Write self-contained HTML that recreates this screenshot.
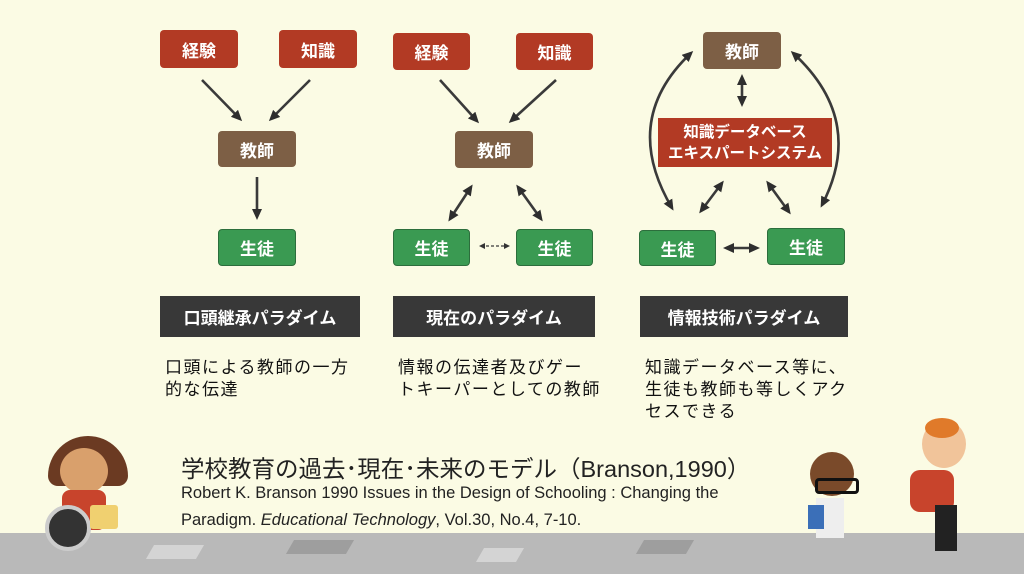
<!DOCTYPE html>
<html><head><meta charset="utf-8"><style>
body{margin:0;width:1024px;height:574px;overflow:hidden;background:#fbfbe4;position:relative;font-family:"Liberation Sans","Noto Sans CJK JP",sans-serif}
.b{position:absolute;color:#fff;font-weight:bold;font-size:17px;display:flex;align-items:center;justify-content:center;border-radius:4px;box-sizing:border-box}
.r{background:#b23a24}.br{background:#7d5f45}.g{background:#3a9a52;border:1px solid #2c6e3c}
.l{position:absolute;background:#383838;color:#fff;font-weight:bold;font-size:17px;display:flex;align-items:center;justify-content:center;height:41px;top:296px}
.d{position:absolute;font-size:17px;letter-spacing:1.5px;line-height:22px;color:#111;top:357px;white-space:nowrap}
</style></head><body>
<div style="position:absolute;left:0;top:533px;width:1024px;height:41px;background:#b9b9b9"></div>
<div style="position:absolute;left:150px;top:545px;width:50px;height:14px;background:#d4d4d4;transform:skewX(-30deg)"></div>
<div style="position:absolute;left:290px;top:540px;width:60px;height:14px;background:#9e9e9e;transform:skewX(-30deg)"></div>
<div style="position:absolute;left:480px;top:548px;width:40px;height:14px;background:#d4d4d4;transform:skewX(-30deg)"></div>
<div style="position:absolute;left:640px;top:540px;width:50px;height:14px;background:#9e9e9e;transform:skewX(-30deg)"></div>

<div class="b r" style="left:160px;top:30px;width:78px;height:38px">経験</div>
<div class="b r" style="left:279px;top:30px;width:78px;height:38px">知識</div>
<div class="b br" style="left:218px;top:131px;width:78px;height:36px">教師</div>
<div class="b g" style="left:218px;top:229px;width:78px;height:37px">生徒</div>

<div class="b r" style="left:393px;top:33px;width:77px;height:37px">経験</div>
<div class="b r" style="left:516px;top:33px;width:77px;height:37px">知識</div>
<div class="b br" style="left:455px;top:131px;width:78px;height:37px">教師</div>
<div class="b g" style="left:393px;top:229px;width:77px;height:37px">生徒</div>
<div class="b g" style="left:516px;top:229px;width:77px;height:37px">生徒</div>

<div class="b br" style="left:703px;top:32px;width:78px;height:37px">教師</div>
<div class="b r" style="left:658px;top:118px;width:174px;height:49px;border-radius:0;line-height:21px;text-align:center;font-size:15.5px">知識データベース<br>エキスパートシステム</div>
<div class="b g" style="left:639px;top:230px;width:77px;height:36px">生徒</div>
<div class="b g" style="left:767px;top:228px;width:78px;height:37px">生徒</div>

<svg style="position:absolute;left:0;top:0" width="1024" height="574">
<defs><marker id="a" markerWidth="11" markerHeight="10" refX="8" refY="5" orient="auto-start-reverse" markerUnits="userSpaceOnUse"><path d="M0,0 L11,5 L0,10 z" fill="#2e2e2e"/></marker></defs>
<g stroke="#3a3a3a" stroke-width="2.6" fill="none">
<line x1="202" y1="80" x2="240" y2="119" marker-end="url(#a)"/>
<line x1="310" y1="80" x2="271" y2="119" marker-end="url(#a)"/>
<line x1="257" y1="177" x2="257" y2="217" marker-end="url(#a)"/>
<line x1="440" y1="80" x2="477" y2="121" marker-end="url(#a)"/>
<line x1="556" y1="80" x2="511" y2="121" marker-end="url(#a)"/>
<line x1="471" y1="187" x2="450" y2="219" marker-start="url(#a)" marker-end="url(#a)"/>
<line x1="518" y1="187" x2="541" y2="219" marker-start="url(#a)" marker-end="url(#a)"/>
<line x1="481" y1="246" x2="508" y2="246" stroke-width="1.3" stroke-dasharray="3,2"/>
<path d="M479,246 l6,-3 v6z M510,246 l-6,-3 v6z" fill="#333" stroke="none"/>
<line x1="742" y1="77" x2="742" y2="104" marker-start="url(#a)" marker-end="url(#a)"/>
<line x1="722" y1="183" x2="701" y2="211" marker-start="url(#a)" marker-end="url(#a)"/>
<line x1="768" y1="183" x2="789" y2="212" marker-start="url(#a)" marker-end="url(#a)"/>
<line x1="726" y1="248" x2="757" y2="248" marker-start="url(#a)" marker-end="url(#a)"/>
<path d="M691,53 Q620,120 672,208" marker-start="url(#a)" marker-end="url(#a)"/>
<path d="M793,53 Q866,120 822,205" marker-start="url(#a)" marker-end="url(#a)"/>
</g></svg>

<div class="l" style="left:160px;width:200px">口頭継承パラダイム</div>
<div class="l" style="left:393px;width:202px">現在のパラダイム</div>
<div class="l" style="left:640px;width:208px">情報技術パラダイム</div>

<div class="d" style="left:165px">口頭による教師の一方<br>的な伝達</div>
<div class="d" style="left:398px">情報の伝達者及びゲー<br>トキーパーとしての教師</div>
<div class="d" style="left:645px">知識データベース等に、<br>生徒も教師も等しくアク<br>セスできる</div>

<div style="position:absolute;left:181px;top:450px;font-size:23.5px;color:#222;white-space:nowrap">学校教育の過去･現在･未来のモデル（Branson,1990）</div>
<div style="position:absolute;left:181px;top:480px;font-size:16.5px;line-height:27px;color:#222;white-space:nowrap">Robert K. Branson 1990 Issues in the Design of Schooling : Changing the<br>Paradigm. <i>Educational Technology</i>, Vol.30, No.4, 7-10.</div>

<div style="position:absolute;left:48px;top:436px;width:80px;height:50px;border-radius:40px 40px 10px 10px;background:#6b3a22"></div>
<div style="position:absolute;left:60px;top:448px;width:48px;height:46px;border-radius:50%;background:#d9a06c"></div>
<div style="position:absolute;left:62px;top:490px;width:44px;height:40px;background:#c8442c;border-radius:8px"></div>
<div style="position:absolute;left:45px;top:505px;width:46px;height:46px;border-radius:50%;background:#333;border:4px solid #ccc;box-sizing:border-box"></div>
<div style="position:absolute;left:90px;top:505px;width:28px;height:24px;background:#f0d070;border-radius:3px"></div>

<div style="position:absolute;left:810px;top:452px;width:44px;height:44px;border-radius:50%;background:#7a4a2a"></div>
<div style="position:absolute;left:815px;top:478px;width:38px;height:10px;border:3px solid #111;border-radius:4px"></div>
<div style="position:absolute;left:816px;top:498px;width:28px;height:40px;background:#eee"></div>
<div style="position:absolute;left:808px;top:505px;width:16px;height:24px;background:#3b6fb8"></div>
<div style="position:absolute;left:922px;top:420px;width:44px;height:48px;border-radius:50%;background:#f1c49a"></div>
<div style="position:absolute;left:925px;top:418px;width:34px;height:20px;border-radius:50%;background:#e07a2a"></div>
<div style="position:absolute;left:910px;top:470px;width:44px;height:42px;background:#c8442c;border-radius:10px"></div>
<div style="position:absolute;left:935px;top:505px;width:22px;height:46px;background:#222"></div>
</body></html>
